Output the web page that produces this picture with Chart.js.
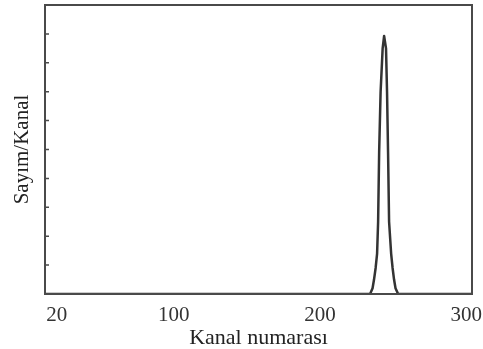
<!DOCTYPE html>
<html>
<head>
<meta charset="utf-8">
<script src="https://cdn.jsdelivr.net/npm/chart.js@4"></script>
<style>
  html, body { margin: 0; padding: 0; background: #fff; }
  #wrap { width: 483px; height: 349px; }
</style>
</head>
<body>
<div id="wrap"><canvas id="chart"></canvas></div>
<script>
// channel numbers and counts (single peak near 244)
const channels = [12, 234.3, 236.0, 237.0, 238.1, 239.1, 239.8, 240.5, 241.5, 242.9, 243.9,
                  245.2, 245.9, 246.6, 247.3, 248.7, 249.7, 250.7, 251.7, 253.5, 304];
const counts = [0, 0, 0.2, 0.5, 0.9, 1.4, 2.5, 4.9, 7.0, 8.5, 8.93,
                8.5, 7.0, 4.9, 2.5, 1.4, 0.9, 0.5, 0.2, 0, 0];
const xTicks = [20, 100, 200, 300];
const yTicks = [1, 2, 3, 4, 5, 6, 7, 8, 9];

const serif = '"Liberation Serif", "DejaVu Serif", serif';

// frame around plot area + small inward ticks on the left side
const framePlugin = {
  id: 'frame',
  afterDatasetsDraw(chart) {
    const { ctx, chartArea: a, scales } = chart;
    ctx.save();
    ctx.strokeStyle = '#4a4a4a';
    ctx.lineWidth = 2;
    ctx.strokeRect(a.left, a.top, a.right - a.left, a.bottom - a.top);
    ctx.lineWidth = 1.5;
    ctx.beginPath();
    yTicks.forEach(v => {
      const y = scales.y.getPixelForValue(v);
      ctx.moveTo(a.left, y);
      ctx.lineTo(a.left + 4, y);
    });
    ctx.stroke();
    ctx.restore();
  }
};

const ctx = document.getElementById('chart').getContext('2d');
new Chart(ctx, {
  type: 'line',
  data: {
    datasets: [{
      data: channels.map((c, i) => ({ x: c, y: counts[i] })),
      borderColor: '#333',
      borderWidth: 2.5,
      borderJoinStyle: 'round',
      pointRadius: 0,
      tension: 0,
      fill: false,
    }]
  },
  options: {
    responsive: true,
    maintainAspectRatio: false,
    animation: false,
    layout: { padding: { top: 5, right: 11, left: 0, bottom: 0 } },
    plugins: { legend: { display: false }, tooltip: { enabled: false } },
    scales: {
      x: {
        type: 'linear',
        min: 12,
        max: 304,
        afterBuildTicks: scale => { scale.ticks = xTicks.map(v => ({ value: v })); },
        afterFit: scale => {
          scale.height = 55;
          scale.paddingLeft = 0;
          scale.paddingRight = 0;
        },
        grid: { display: false },
        border: { display: false },
        ticks: {
          color: '#333',
          font: { family: serif, size: 21 },
          padding: 1,
          maxRotation: 0,
          autoSkip: false,
        },
        title: {
          display: true,
          text: 'Kanal numarası',
          color: '#222',
          font: { family: serif, size: 22 },
          padding: { top: 0, bottom: -2 },
        }
      },
      y: {
        min: 0,
        max: 10,
        afterFit: scale => { scale.width = 45; },
        grid: { display: false },
        border: { display: false },
        ticks: { display: false },
        title: {
          display: true,
          text: 'Sayım/Kanal',
          color: '#222',
          font: { family: serif, size: 21 },
          padding: { top: 10, bottom: 0 },
        }
      }
    }
  },
  plugins: [framePlugin]
});
</script>
</body>
</html>
